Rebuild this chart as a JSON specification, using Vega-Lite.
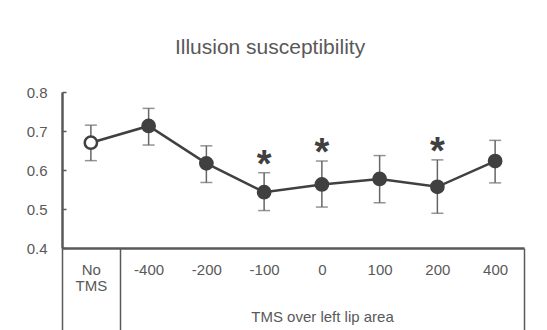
{
  "$schema": "https://vega.github.io/schema/vega-lite/v6.json",
  "autosize": "none",
  "padding": {"left": 62, "top": 92, "right": 23, "bottom": 82},
  "width": 462,
  "height": 156,
  "background": "white",
  "config": {
    "view": {"stroke": null},
    "font": "Liberation Sans",
    "axisY": {
      "title": null,
      "values": [0.4, 0.5, 0.6, 0.7, 0.8],
      "format": ".1f",
      "grid": false,
      "labelOverlap": false,
      "labelFontSize": 15,
      "labelColor": "#595959",
      "labelPadding": 19,
      "tickSize": -4,
      "tickColor": "#595959",
      "tickWidth": 1.5,
      "domainColor": "#595959",
      "domainWidth": 2.5
    }
  },
  "title": {
    "text": "Illusion susceptibility",
    "fontSize": 21,
    "fontWeight": "normal",
    "color": "#595959",
    "font": "Liberation Sans",
    "anchor": "middle",
    "frame": "group",
    "dx": -23,
    "baseline": "alphabetic",
    "offset": 10
  },
  "data": {
    "values": [
      {"cond": "No TMS", "mean": 0.670, "lower": 0.624, "upper": 0.715, "sig": false, "baseline": true},
      {"cond": "-400", "mean": 0.713, "lower": 0.664, "upper": 0.758, "sig": false, "baseline": false},
      {"cond": "-200", "mean": 0.617, "lower": 0.568, "upper": 0.662, "sig": false, "baseline": false},
      {"cond": "-100", "mean": 0.543, "lower": 0.496, "upper": 0.593, "sig": true, "baseline": false},
      {"cond": "0", "mean": 0.563, "lower": 0.505, "upper": 0.623, "sig": true, "baseline": false},
      {"cond": "100", "mean": 0.577, "lower": 0.516, "upper": 0.637, "sig": false, "baseline": false},
      {"cond": "200", "mean": 0.557, "lower": 0.489, "upper": 0.626, "sig": true, "baseline": false},
      {"cond": "400", "mean": 0.623, "lower": 0.567, "upper": 0.676, "sig": false, "baseline": false}
    ]
  },
  "encoding": {
    "x": {
      "field": "cond",
      "type": "nominal",
      "sort": ["No TMS", "-400", "-200", "-100", "0", "100", "200", "400"],
      "scale": {"type": "band", "paddingInner": 0, "paddingOuter": 0},
      "axis": {
        "title": "TMS over left lip area",
        "titleFontSize": 15,
        "titleFontWeight": "normal",
        "titleColor": "#595959",
        "titleX": 260,
        "titleY": 61,
        "titleBaseline": "top",
        "labelAngle": 0,
        "labelFontSize": 15,
        "labelColor": "#595959",
        "labelBaseline": "middle",
        "labelPadding": -61,
        "labelLineHeight": 16,
        "labelExpr": "datum.value == 'No TMS' ? ['No', 'TMS'] : datum.value",
        "domainColor": "#595959",
        "domainWidth": 2.5,
        "tickBand": "extent",
        "tickSize": 82,
        "tickWidth": 1.5,
        "tickColor": "#595959",
        "tickOpacity": {"condition": {"test": "indexof(['-400','-200','-100','0','100','200'], datum.value) >= 0", "value": 0}, "value": 1}
      }
    }
  },
  "layer": [
    {
      "mark": {"type": "rule", "color": "#666666", "strokeWidth": 1.5},
      "encoding": {
        "y": {
          "field": "lower",
          "type": "quantitative",
          "title": null,
          "scale": {"domain": [0.4, 0.8], "nice": false, "zero": false}
        },
        "y2": {"field": "upper"}
      }
    },
    {
      "mark": {"type": "tick", "color": "#666666", "thickness": 1.5, "size": 12},
      "encoding": {"y": {"field": "upper", "type": "quantitative", "title": null}}
    },
    {
      "mark": {"type": "tick", "color": "#666666", "thickness": 1.5, "size": 12},
      "encoding": {"y": {"field": "lower", "type": "quantitative", "title": null}}
    },
    {
      "mark": {"type": "line", "color": "#404040", "strokeWidth": 2.5},
      "encoding": {"y": {"field": "mean", "type": "quantitative", "title": null}}
    },
    {
      "mark": {"type": "point", "shape": "circle", "filled": false, "strokeWidth": 2.5, "size": 150, "stroke": "#404040", "opacity": 1},
      "encoding": {
        "y": {"field": "mean", "type": "quantitative", "title": null},
        "fill": {
          "field": "baseline",
          "type": "nominal",
          "scale": {"domain": [true, false], "range": ["#ffffff", "#404040"]},
          "legend": null
        }
      }
    },
    {
      "transform": [{"filter": "datum.sig"}],
      "mark": {"type": "text", "text": "*", "fontSize": 38, "fontWeight": "bold", "color": "#404040", "baseline": "alphabetic", "dy": 4, "font": "Liberation Sans"},
      "encoding": {"y": {"field": "upper", "type": "quantitative", "title": null}}
    }
  ]
}
